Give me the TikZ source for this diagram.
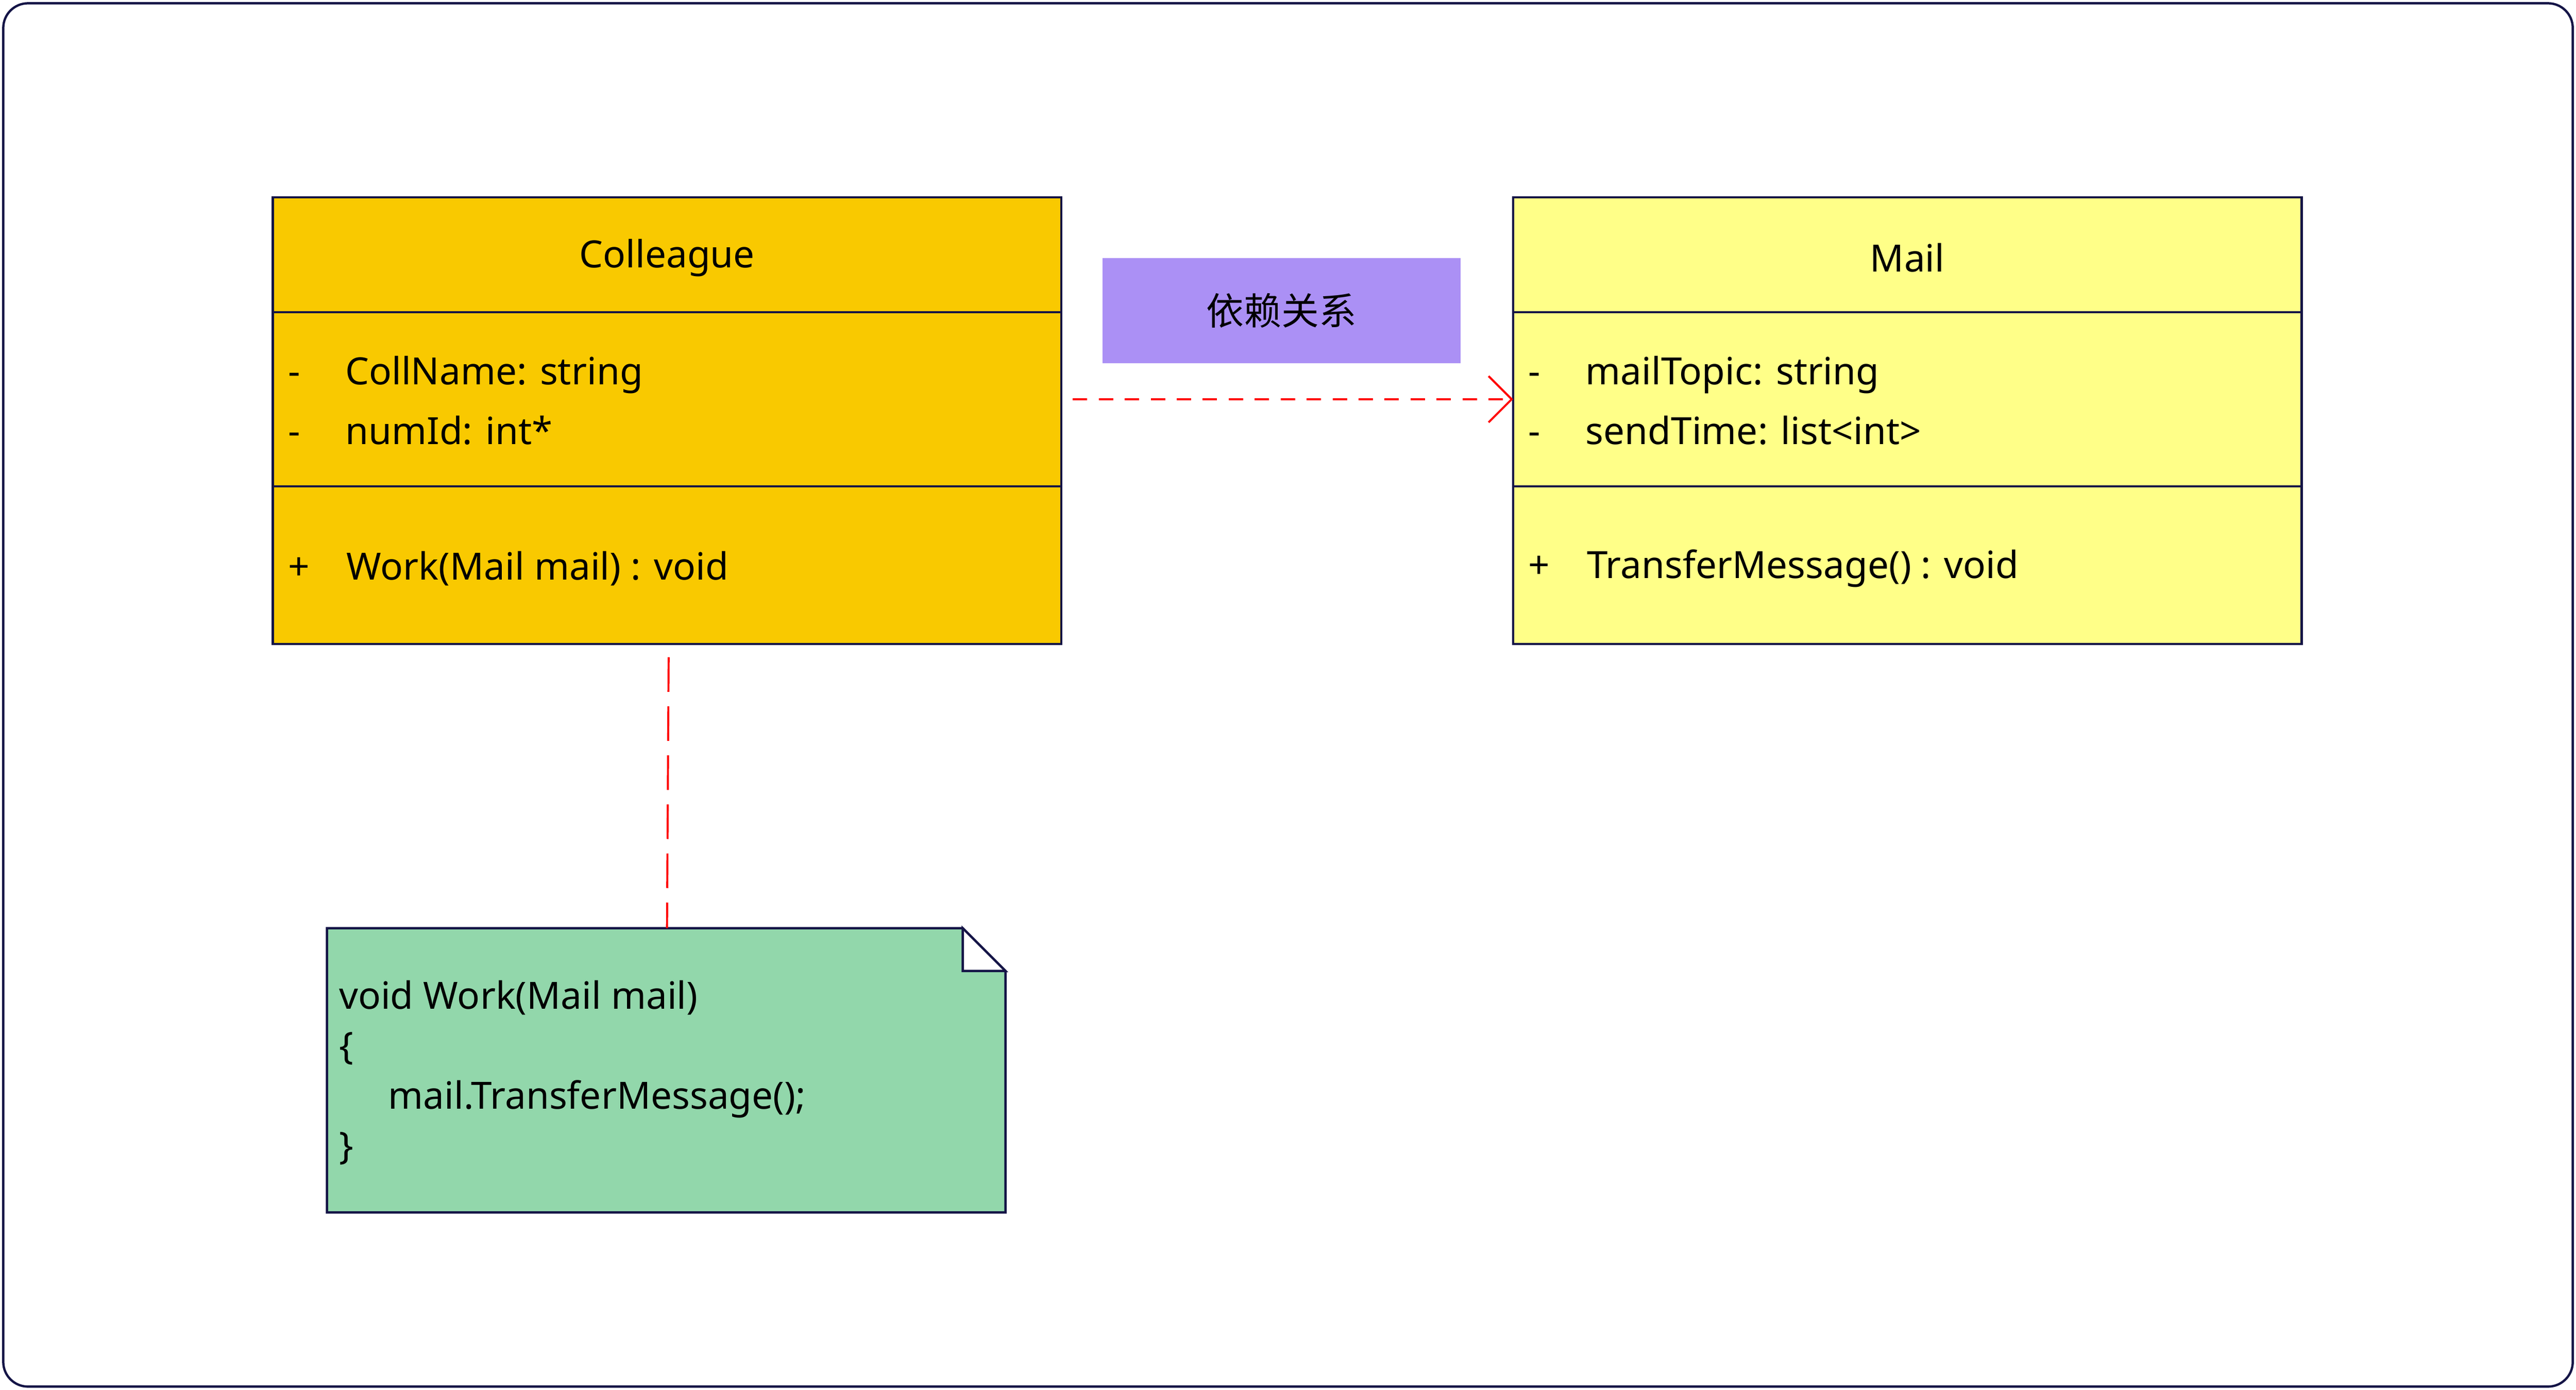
\documentclass[tikz,border=0pt]{standalone}
\usepackage{fontspec}
\setmainfont{Noto Sans}
\newfontfamily\cjk{Noto Sans CJK SC}
\usepackage{tikz}
\usetikzlibrary{positioning,arrows.meta,shapes.misc}
\definecolor{collfill}{RGB}{249,201,0}
\definecolor{mailfill}{RGB}{255,255,136}
\definecolor{tagfill}{RGB}{171,144,245}
\definecolor{notefill}{RGB}{146,215,171}
\definecolor{edgeblue}{RGB}{20,20,70}
\tikzset{
	classbox/.style={draw=edgeblue, line width=0.8pt, minimum width=9.6cm, minimum height=5.44cm, inner sep=0pt},
	member/.style={anchor=west, inner sep=0pt, font=\fontsize{13}{16}\selectfont},
	dep/.style={draw=red, dash pattern=on 5pt off 4pt, line width=0.7pt},
}
\begin{document}
\begin{tikzpicture}[x=0.02cm, y=-0.02cm]
	\useasboundingbox (0,0) rectangle (1568,846);
	\draw[edgeblue, line width=0.8pt, rounded corners=0.3cm] (2,2) rectangle (1566,844);
	% class boxes
	\node[classbox, fill=collfill] (coll) at (406,256) {};
	\node[classbox, fill=mailfill] (mail) at (1161,256) {};
	\draw[edgeblue, line width=0.8pt] (166,190) -- (646,190) (166,296) -- (646,296);
	\draw[edgeblue, line width=0.8pt] (921,190) -- (1401,190) (921,296) -- (1401,296);
	\node[font=\fontsize{13}{16}\selectfont] (colltitle) at (406,157) {Colleague};
	\node[font=\fontsize{13}{16}\selectfont] (mailtitle) at (1161,157) {Mail};
	\node[member] (c1) at (175,228) {-\hspace{0.55cm}CollName: string};
	\node[member] (c2) at (175,262) {-\hspace{0.55cm}numId: int*};
	\node[member] (c3) at (175,346) {+\hspace{0.45cm}Work(Mail mail) : void};
	\node[member] (m1) at (930,228) {-\hspace{0.55cm}mailTopic: string};
	\node[member] (m2) at (930,262) {-\hspace{0.55cm}sendTime: list<int>};
	\node[member] (m3) at (930,346) {+\hspace{0.45cm}TransferMessage() : void};
	% label
	\node[fill=tagfill, minimum width=4.36cm, minimum height=1.28cm, font=\cjk\fontsize{13}{16}\selectfont] (tag) at (780,189) {依赖关系};
	% note
	\draw[edgeblue, line width=0.8pt, fill=notefill] (199,565) -- (586,565) -- (612,591) -- (612,738) -- (199,738) -- cycle;
	\draw[edgeblue, line width=0.8pt, fill=white] (586,565) -- (586,591) -- (612,591) -- cycle;
	\node[member, align=left, font=\fontsize{13}{17.3}\selectfont] (note) at (206,653) {void Work(Mail mail)\\\{\\\hspace{0.6cm}mail.TransferMessage();\\\}};
	% connectors
	\coordinate (depfrom) at (653,243);
	\coordinate (depto) at (921,243);
	\coordinate (notefrom) at (407,400);
	\coordinate (noteto) at (406,565);
	\draw[dep, -{Straight Barb[length=8pt, width=16pt]}] (depfrom) -- (depto);
	\draw[dep, dash pattern=on 12pt off 5pt] (notefrom) -- (noteto);
\end{tikzpicture}
\end{document}
